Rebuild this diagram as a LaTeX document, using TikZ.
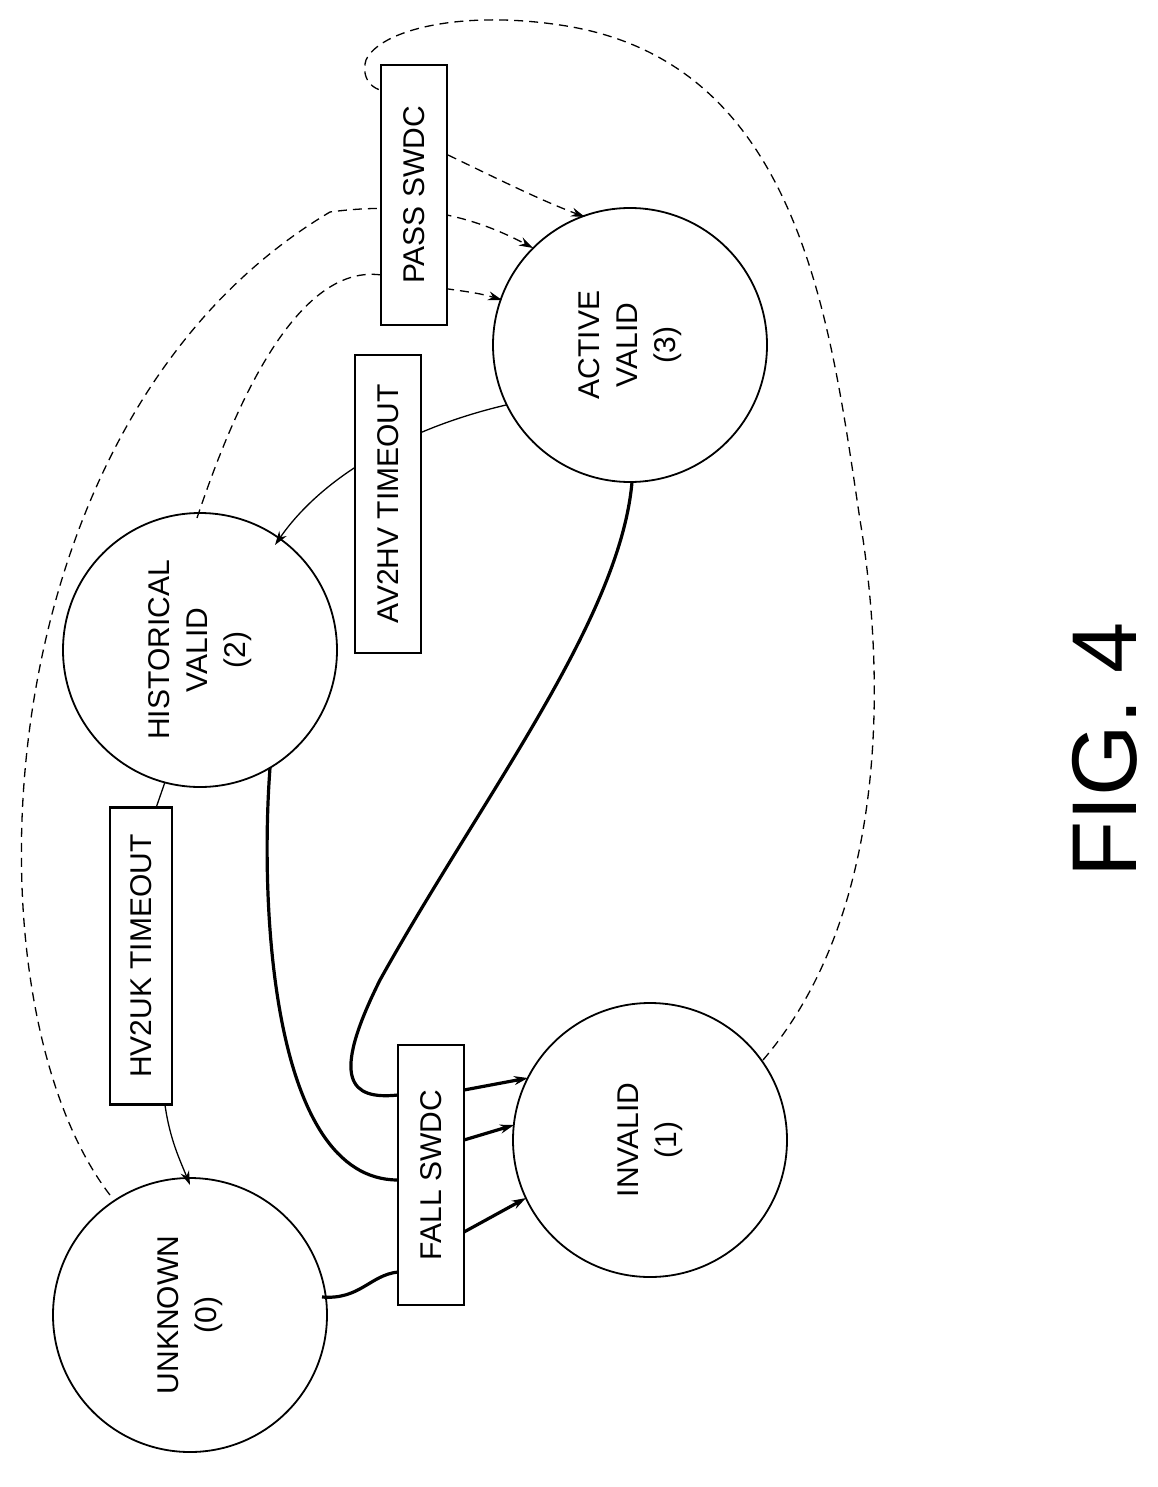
\documentclass[tikz,border=0pt]{standalone}
\usepackage{fontspec}
\setmainfont{Liberation Sans}
\usetikzlibrary{arrows.meta,backgrounds}
\begin{document}
\begin{tikzpicture}[x=1pt,y=-1pt,
  st/.style={circle,draw,line width=1.8pt,minimum size=274pt,inner sep=0pt,rotate=90,align=center,font=\fontsize{30}{38}\selectfont},
  lb/.style={draw,fill=white,line width=2.2pt,rotate=90,inner sep=0pt,font=\fontsize{30}{36}\selectfont},
  ds/.style={dashed,dash pattern=on 9pt off 6pt,line width=1.3pt},
  thin/.style={line width=1.3pt},
  thick/.style={line width=3.2pt},
  ar/.style={-{Stealth[length=14pt,width=9pt]}}]
\useasboundingbox (0,0) rectangle (1157,1487);
\node[st] (uk) at (190,1315) {UNKNOWN\\(0)};
\node[st] (hv) at (200,650) {HISTORICAL\\VALID\\(2)};
\node[st] (av) at (630,345) {ACTIVE\\VALID\\(3)};
\node[st] (iv) at (650,1140) {INVALID\\(1)};
\node[lb,minimum width=260pt,minimum height=66pt] (pass) at (414,195) {PASS SWDC};
\node[lb,minimum width=298pt,minimum height=66pt] (avhv) at (388,504) {AV2HV TIMEOUT};
\node[lb,minimum width=297pt,minimum height=62pt] (hvuk) at (141,956) {HV2UK TIMEOUT};
\node[lb,minimum width=260pt,minimum height=66pt] (fall) at (431,1175) {FALL SWDC};
\node[rotate=90,font=\fontsize{92}{92}\selectfont] (fig) at (1105,750) {FIG. 4};
\begin{pgfonlayer}{background}
% dashed
\draw[ds,ar] ([shift={(-80,-120)}]uk.center) .. controls (-40,1000) and (-20,420) .. (330,212) .. controls (420,200) and (480,220) .. ([shift={(-97,-97)}]av.center);
\draw[ds,ar] ([shift={(-3,-132)}]hv.center) .. controls (230,420) and (300,240) .. (400,280) .. controls (440,290) and (470,290) .. ([shift={(-128,-45)}]av.center);
\coordinate (lp) at (395,90);
\draw[ds] ([shift={(113,-80)}]iv.center) .. controls (900,900) and (880,640) .. (860,520) .. controls (830,320) and (800,60) .. (560,25) .. controls (460,10) and (380,30) .. (366,60) .. controls (360,80) and (375,95) .. (lp);
\draw[ds,ar] ([shift={(34,-40)}]pass.center) .. controls (500,180) and (540,200) .. ([shift={(-45,-128)}]av.center);
% thin
\draw[thin,ar] ([shift={(-124,60)}]av.center) .. controls (400,430) and (320,480) .. ([shift={(75,-105)}]hv.center);
\draw[thin] ([shift={(-35,132)}]hv.center) -- ([shift={(15,-148)}]hvuk.center);
\draw[thin,ar] ([shift={(24,149)}]hvuk.center) .. controls (170,1140) and (180,1160) .. ([shift={(0,-130)}]uk.center);
% thick
\draw[thick] ([shift={(132,-18)}]uk.center) .. controls (360,1300) and (370,1275) .. ([shift={(-33,97)}]fall.center);
\draw[thick,ar] ([shift={(33,57)}]fall.center) -- ([shift={(-124,58)}]iv.center);
\draw[thick] ([shift={(70,118)}]hv.center) .. controls (260,900) and (270,1180) .. ([shift={(-33,5)}]fall.center);
\draw[thick,ar] ([shift={(33,-35)}]fall.center) -- ([shift={(-136,-15)}]iv.center);
\draw[thick] ([shift={(2,137)}]av.center) .. controls (620,620) and (480,800) .. (380,980) .. controls (330,1080) and (350,1100) .. ([shift={(-33,-80)}]fall.center);
\draw[thick,ar] ([shift={(33,-85)}]fall.center) -- ([shift={(-122,-62)}]iv.center);
\end{pgfonlayer}
\end{tikzpicture}
\end{document}
